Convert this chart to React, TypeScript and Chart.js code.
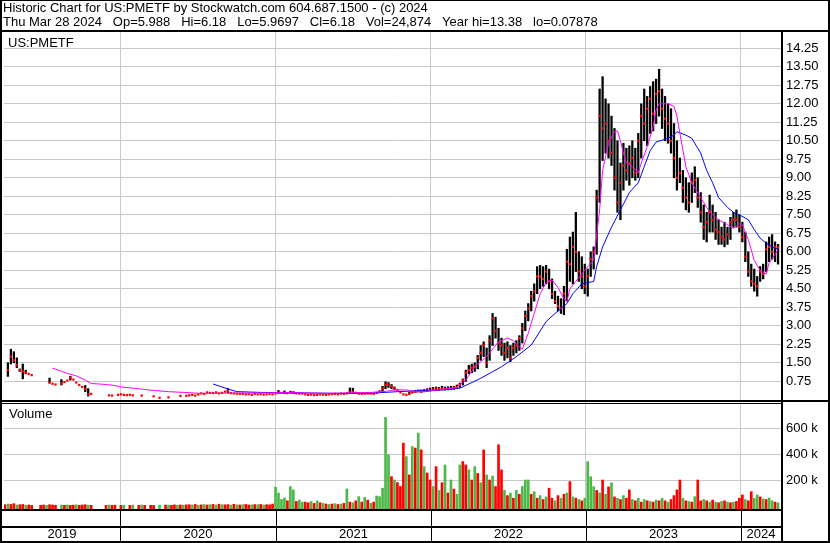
import React, { useEffect, useRef } from 'react';
import { Chart, registerables } from 'chart.js';

Chart.register(...registerables);

const _ = null;

const titleLine1 = 'Historic Chart for US:PMETF by Stockwatch.com 604.687.1500 - (c) 2024';
const titleLine2 = 'Thu Mar 28 2024   Op=5.988   Hi=6.18   Lo=5.9697   Cl=6.18   Vol=24,874   Year hi=13.38   lo=0.07878';
const symbolLabel = 'US:PMETF';
const volumeLabel = 'Volume';

// weekly bars, first one in the first week of April 2019 (decimal years)
const firstWeek = 2019.256;
const weekLength = 7 / 365.25;
const xStart = 2019.25;
const xEnd = 2024.258;

const yearBoundaries = [2020, 2021, 2022, 2023, 2024];
const yearLabels = ['2019', '2020', '2021', '2022', '2023', '2024'];
const priceTicks = [0.75, 1.5, 2.25, 3, 3.75, 4.5, 5.25, 6, 6.75, 7.5, 8.25, 9, 9.75, 10.5, 11.25, 12, 12.75, 13.5, 14.25];
const volumeTicks = [200000, 400000, 600000];

const weeklyClose = [
  _, 1.2, 1.75, 1.6, 1.4, 1.2, 1.15, 1.1, 1.05, 1.0,
  _, _, _, _, _, 0.7, 0.65, 0.62, _, 0.66,
  0.72, 0.78, 0.9, 0.82, 0.7, 0.6, 0.52, 0.45, 0.22, 0.24,
  _, _, _, _, _, 0.18, 0.17, _, 0.2, 0.22,
  0.2, 0.19, 0.2, 0.18, _, _, 0.17, _, _, _,
  0.14, _, 0.08, _, _, 0.1, _, _, _, 0.16,
  _, 0.16, 0.18, 0.2, 0.17, 0.22, 0.26, 0.24, 0.3, 0.28,
  0.27, 0.3, 0.26, 0.28, 0.33, 0.35, 0.27, 0.26, 0.25, 0.24,
  0.24, 0.22, 0.23, 0.2, 0.24, 0.22, 0.23, 0.21, 0.22, 0.24,
  0.22, 0.26, 0.3, 0.28, 0.29, 0.27, 0.3, 0.28, 0.26, 0.25,
  0.25, 0.22, 0.2, 0.21, 0.19, 0.2, 0.22, 0.21, 0.2, 0.22,
  0.23, 0.24, 0.22, 0.25, 0.24, 0.26, 0.3, 0.32, 0.28, 0.25,
  0.24, 0.25, 0.26, 0.25, 0.24, 0.28, 0.35, 0.45, 0.6, 0.62,
  0.55, 0.48, 0.4, 0.3, 0.22, 0.2, 0.24, 0.3, 0.33, 0.35,
  0.33, 0.36, 0.38, 0.4, 0.42, 0.45, 0.43, 0.46, 0.44, 0.45,
  0.45, 0.5, 0.52, 0.62, 0.8, 1.1, 1.2, 1.3, 1.35, 1.7,
  1.9, 2.2, 1.5, 2.4, 3.3, 2.8, 2.3, 2.2, 1.9, 2.1,
  1.7, 2.1, 2.2, 2.5, 2.9, 3.4, 3.7, 4.2, 4.4, 5.0,
  5.0, 4.9, 5.2, 4.8, 4.3, 4.0, 3.8, 3.7, 4.3, 5.6,
  5.5, 6.2, 6.0, 5.2, 5.0, 4.6, 5.0, 5.7, 6.0, 8.2,
  11.5, 11.0, 11.2, 10.5, 10.0, 9.0, 8.0, 8.8, 9.5, 9.3,
  9.6, 9.8, 9.2, 10.5, 11.5, 11.2, 11.8, 12.2, 11.6, 12.4,
  12.5, 11.8, 11.4, 11.2, 10.5, 9.8, 9.0, 9.2, 8.6, 8.2,
  8.0, 8.8, 8.9, 8.2, 7.6, 7.0, 7.2, 7.6, 7.3, 6.9,
  6.8, 6.6, 6.5, 6.7, 7.2, 7.3, 7.3, 7.0, 6.6, 5.8,
  5.2, 4.8, 4.7, 4.6, 5.2, 5.1, 6.1, 6.2, 6.0, 6.2, 6.18,
];

const weeklyLow = [
  _, 0.95, 1.45, 1.5, 1.3, 1.15, 0.85, 1.05, _, _,
  _, _, _, _, _, 0.68, _, _, _, 0.6,
  _, _, 0.8, _, _, _, _, 0.33, 0.15, _,
  _, _, _, _, _, _, _, _, _, _,
  _, _, _, _, _, _, _, _, _, _,
  _, _, _, _, _, _, _, _, _, _,
  _, _, _, _, _, _, _, _, _, _,
  _, _, _, _, _, 0.28, _, _, _, _,
  _, _, _, _, _, _, _, _, _, _,
  _, _, 0.26, _, 0.25, _, 0.27, 0.25, _, _,
  _, _, _, _, _, _, _, _, _, _,
  _, _, _, _, _, _, 0.25, 0.28, _, _,
  _, _, _, _, _, _, _, 0.3, 0.45, 0.5,
  0.45, 0.4, _, _, _, _, 0.22, 0.28, 0.3, 0.32,
  0.3, 0.32, 0.33, 0.35, 0.37, 0.38, 0.38, 0.4, 0.39, 0.4,
  0.4, 0.42, 0.45, 0.5, 0.6, 0.75, 1.05, 1.1, 1.15, 1.25,
  1.6, 1.75, 1.3, 1.6, 2.2, 2.5, 2.0, 1.8, 1.6, 1.7,
  1.55, 1.8, 1.9, 2.0, 2.3, 2.8, 3.2, 3.6, 4.0, 4.3,
  4.5, 4.6, 4.7, 4.5, 4.1, 3.9, 3.6, 3.5, 3.45, 4.0,
  4.8, 4.7, 5.2, 4.8, 4.5, 4.3, 4.2, 5.0, 5.3, 5.9,
  8.0, 9.7, 10.0, 9.8, 9.5, 8.5, 7.6, 7.3, 8.5, 8.9,
  8.7, 9.0, 8.9, 9.0, 9.8, 10.5, 10.3, 10.8, 10.9, 11.2,
  11.5, 11.0, 10.5, 10.4, 10.0, 9.0, 8.5, 8.8, 8.0, 7.7,
  7.6, 8.0, 8.4, 7.8, 7.2, 6.5, 6.4, 6.8, 6.8, 6.5,
  6.3, 6.3, 6.2, 6.3, 6.5, 7.0, 7.0, 6.8, 6.4, 5.6,
  5.0, 4.6, 4.4, 4.2, 4.8, 4.9, 5.2, 5.6, 5.7, 5.6, 5.5,
];

const weeklyHigh = [
  _, 1.5, 2.05, 1.95, 1.7, 1.25, 1.45, 1.2, _, _,
  _, _, _, _, _, 0.88, _, _, _, 0.82,
  _, _, 0.95, _, _, _, _, 0.58, 0.45, _,
  _, _, _, _, _, _, _, _, _, _,
  _, _, _, _, _, _, _, _, _, _,
  _, _, _, _, _, _, _, _, _, _,
  _, _, _, _, _, _, _, _, _, _,
  _, _, _, _, _, 0.45, _, _, _, _,
  _, _, _, _, _, _, _, _, _, _,
  _, _, 0.38, _, 0.36, _, 0.35, 0.33, _, _,
  _, _, _, _, _, _, _, _, _, _,
  _, _, _, _, _, _, 0.48, 0.47, _, _,
  _, _, _, _, _, _, _, 0.55, 0.73, 0.7,
  0.62, 0.52, _, _, _, _, 0.3, 0.35, 0.38, 0.4,
  0.4, 0.42, 0.45, 0.48, 0.5, 0.52, 0.5, 0.55, 0.52, 0.53,
  0.55, 0.55, 0.6, 0.68, 0.85, 1.2, 1.4, 1.45, 1.5, 1.8,
  2.2, 2.35, 2.1, 2.6, 3.5, 3.35, 2.9, 2.5, 2.3, 2.35,
  2.2, 2.3, 2.4, 2.6, 3.1, 3.6, 3.9, 4.4, 4.7, 5.4,
  5.45, 5.4, 5.45, 5.3, 4.9, 4.4, 4.2, 4.1, 4.6, 6.1,
  6.6, 6.8, 7.6, 6.0, 5.8, 5.5, 5.3, 6.0, 6.2, 8.5,
  12.6, 13.1, 12.2, 12.0, 11.5, 11.0, 10.5, 9.6, 10.4, 10.2,
  10.3, 10.5, 10.2, 10.8, 12.0, 12.6, 12.3, 12.7, 12.9, 13.0,
  13.4, 12.6, 12.3, 12.0, 11.8, 11.2, 10.5, 9.8, 9.3, 9.0,
  8.8, 9.2, 9.45, 9.0, 8.4, 7.9, 7.6, 8.3, 7.9, 7.6,
  7.3, 7.0, 7.2, 7.0, 7.4, 7.6, 7.7, 7.5, 7.2, 6.8,
  6.0, 5.5, 5.3, 5.0, 5.4, 5.5, 6.4, 6.6, 6.7, 6.4, 6.3,
];

// weekly volume in thousands of shares
const weeklyVolumeK = [
  10, 15, 12, 18, 8, 10, 12, 6, 8, 5,
  _, _, 6, 8, 5, 10, 8, 6, _, 7,
  6, 8, 5, 7, 9, 6, 8, 10, 6, 5,
  _, _, _, _, 5, 8, 6, 7, _, 5,
  6, _, 5, 7, _, 6, 8, 5, _, 6,
  5, _, 7, _, 8, 6, 5, 9, 6, 8,
  7, 9, 10, 8, 12, 6, 9, 11, 8, 10,
  12, 8, 14, 10, 9, 11, 7, 13, 9, 8,
  10, 12, 8, 9, 11, 10, 12, 8, 10, 9,
  15, 145, 100, 50, 62, 40, 149, 124, 35, 46,
  30, 30, 25, 35, 20, 40, 25, 20, 15, 12,
  15, 18, 12, 15, 20, 131, 30, 25, 40, 72,
  30, 66, 45, 20, 30, 77, 72, 137, 682, 394,
  226, 200, 180, 150, 484, 380, 240, 458, 446, 561,
  432, 303, 254, 200, 150, 303, 120, 180, 316, 100,
  200, 130, 90, 316, 342, 316, 278, 200, 303, 250,
  180, 432, 239, 200, 230, 150, 471, 278, 120, 80,
  100, 60, 120, 90, 150, 200, 200, 90, 110, 60,
  80, 50, 70, 137, 60, 40, 80, 60, 90, 100,
  188, 70, 60, 50, 40, 60, 342, 226, 149, 120,
  100, 200, 90, 147, 178, 70, 60, 50, 80, 60,
  124, 50, 40, 60, 30, 50, 40, 35, 30, 45,
  40, 60, 40, 30, 50, 80, 124, 200, 60, 40,
  35, 30, 72, 200, 40, 50, 40, 30, 46, 30,
  25, 35, 40, 30, 25, 30, 35, 60, 85, 50,
  40, 110, 60, 85, 70, 55, 50, 62, 40, 30, 25,
];

// g = up week (green), r = down week (red)
const weeklyVolumeSide = [
  'rgrrgrrgrr', 'rrrrgrrrrg', 'rgrrgrrrgr', 'rrrrrgrrrr', 'grrgrrgrrr',
  'rrgrrgrrgr', 'grrgrgrgrg', 'rgrgrrgrgr', 'grrgrgrgrr', 'rggggrggrg',
  'grrgrgrgrg', 'rgrgrgrgrg', 'rgrgrggggg', 'rgrrrgrgrg', 'rgrrgrgrgr',
  'grggrrgrgr', 'grgrgrrrgr', 'grgrgggrgr', 'grgrrgrgrg', 'rgrgrggggr',
  'grgrgrgrgr', 'rgrgrgrgrg', 'rgrgrrrrgr', 'grgrrgrgrg', 'rgrgrgrrrg',
  'rrggrgrggrg',
].join('');

// moving averages, sampled at week numbers
const shortMaWeeks = [16, 18, 21, 24, 27, 29, 33, 37, 39, 45, 48, 55, 60, 66, 76, 86, 96, 107, 117, 123, 128, 131, 135, 138, 142, 147, 152, 155, 158, 162, 166, 169, 171, 173, 174, 176, 178, 180, 182, 184, 186, 188, 189, 190, 192, 196, 198, 200, 201, 203, 205, 206, 207, 208, 209, 211, 213, 214, 216, 218, 219, 220, 223, 225, 226, 227, 229, 231, 234, 236, 238, 240, 243, 245, 247, 248, 250, 252, 254, 256, 257, 260];
const shortMaValues = [1.28, 1.2, 1.07, 0.97, 0.8, 0.66, 0.63, 0.58, 0.52, 0.45, 0.4, 0.33, 0.3, 0.26, 0.27, 0.28, 0.29, 0.26, 0.28, 0.3, 0.34, 0.4, 0.4, 0.32, 0.35, 0.42, 0.5, 0.8, 1.34, 1.75, 2.35, 2.5, 2.4, 2.15, 2.05, 2.7, 3.5, 4.3, 4.75, 4.86, 4.55, 4.1, 4.0, 4.5, 4.8, 5.4, 5.65, 7.7, 9.3, 10.4, 10.87, 10.9, 10.5, 10.0, 9.6, 9.45, 9.2, 9.6, 10.26, 11.07, 11.75, 12.0, 12.0, 11.9, 11.5, 10.8, 9.45, 8.8, 8.2, 7.8, 7.5, 7.3, 7.1, 6.95, 7.15, 7.1, 6.5, 5.65, 5.25, 5.1, 5.55, 6.07];
const longMaWeeks = [70, 73, 76, 78, 86, 100, 113, 123, 128, 132, 140, 147, 153, 160, 167, 172, 177, 182, 185, 189, 191, 194, 198, 199, 201, 204, 207, 210, 213, 215, 217, 219, 223, 225, 226, 229, 231, 234, 236, 238, 240, 243, 245, 247, 250, 252, 254, 256, 258, 260];
const longMaValues = [0.64, 0.52, 0.4, 0.33, 0.3, 0.28, 0.26, 0.27, 0.3, 0.33, 0.37, 0.4, 0.47, 0.87, 1.34, 1.75, 2.22, 3.17, 3.5, 3.9, 4.3, 4.7, 4.8, 5.4, 6.2, 7.0, 7.7, 8.4, 8.8, 9.45, 10.1, 10.45, 10.6, 10.73, 10.87, 10.73, 10.6, 10.0, 9.3, 8.8, 8.2, 7.8, 7.6, 7.5, 7.3, 6.9, 6.55, 6.35, 6.2, 6.1];

const FONT = '"Liberation Sans", Arial, sans-serif';
const GRID = '#c8c8c8';
const UP = '#4cb848';
const DOWN = '#ff0000';

const weekDate = (i: number) => firstWeek + i * weekLength;

const framePlugin = {
  id: 'frame',
  afterDraw(chart: any) {
    const ctx = chart.ctx;
    const xs = chart.scales.x;
    const ys = chart.scales.y;
    const area = chart.chartArea;
    const W = chart.width;
    const H = chart.height;
    ctx.save();
    ctx.fillStyle = '#000';
    // outer frame
    ctx.fillRect(0, 0, W, 1);
    ctx.fillRect(0, 0, 2, H);
    ctx.fillRect(W - 2, 0, 2, H);
    ctx.fillRect(0, H - 2, W, 2);
    // header separator and axis divider
    ctx.fillRect(0, area.top - 2, W, 2);
    ctx.fillRect(area.right, area.top - 2, 2, H - area.top + 2);
    // price / volume separator
    const sep = Math.round(ys.bottom);
    ctx.fillRect(0, sep - 1, W, 2);
    ctx.fillRect(0, sep + 2, area.right, 1);
    // volume bottom + year band
    const vb = Math.round(area.bottom);
    ctx.fillRect(0, vb, area.right, 2);
    ctx.fillRect(0, vb + 17, area.right, 2);
    const bounds = [area.left, ...yearBoundaries.map((v) => Math.round(xs.getPixelForValue(v))), area.right];
    for (let i = 1; i < bounds.length - 1; i++) {
      ctx.fillRect(bounds[i], vb + 2, 1, H - vb - 4);
    }
    ctx.font = '13px ' + FONT;
    ctx.textAlign = 'center';
    ctx.textBaseline = 'alphabetic';
    for (let i = 0; i < yearLabels.length; i++) {
      ctx.fillText(yearLabels[i], (bounds[i] + bounds[i + 1]) / 2, H - 5);
    }
    // texts
    ctx.textAlign = 'left';
    ctx.fillText(titleLine1, 3, 12);
    ctx.fillText(titleLine2, 3, 26);
    ctx.fillText(symbolLabel, 8, area.top + 15);
    ctx.fillText(volumeLabel, 9, sep + 17);
    ctx.restore();
  },
};

export default function App() {
  const ref = useRef<HTMLCanvasElement | null>(null);

  useEffect(() => {
    document.body.style.margin = '0';
    document.body.style.background = '#fff';
    const canvas = ref.current;
    if (!canvas) return;

    const bars: any[] = [];
    const closes: any[] = [];
    weeklyClose.forEach((c, i) => {
      const lo = weeklyLow[i];
      const hi = weeklyHigh[i];
      if (lo != null && hi != null) bars.push({ x: weekDate(i), y: [lo, hi] });
      if (c != null) closes.push({ x: weekDate(i), y: c });
    });
    const vols: any[] = [];
    const volColors: string[] = [];
    weeklyVolumeK.forEach((v, i) => {
      if (v == null) return;
      vols.push({ x: weekDate(i), y: v * 1000 });
      volColors.push(weeklyVolumeSide[i] === 'g' ? UP : DOWN);
    });
    const shortMa = shortMaWeeks.map((w, i) => ({ x: weekDate(w), y: shortMaValues[i] }));
    const longMa = longMaWeeks.map((w, i) => ({ x: weekDate(w), y: longMaValues[i] }));

    Chart.defaults.font.family = FONT;
    Chart.defaults.font.size = 13;
    Chart.defaults.color = '#000';

    const chart = new Chart(canvas, {
      type: 'bar',
      data: {
        datasets: [
          {
            type: 'line', data: shortMa, borderColor: '#ff00ff', borderWidth: 1,
            pointRadius: 0, tension: 0, xAxisID: 'x', yAxisID: 'y',
          },
          {
            type: 'line', data: longMa, borderColor: '#0000ff', borderWidth: 1,
            pointRadius: 0, tension: 0, xAxisID: 'x', yAxisID: 'y',
          },
          {
            type: 'line', data: closes, showLine: false, pointStyle: 'rect',
            pointRadius: 1.6, pointBorderWidth: 0, pointBackgroundColor: DOWN,
            borderColor: DOWN, xAxisID: 'x', yAxisID: 'y',
          },
          {
            type: 'bar', data: bars, backgroundColor: '#000', grouped: false,
            barPercentage: 1, categoryPercentage: 1, maxBarThickness: 1.6,
            xAxisID: 'x', yAxisID: 'y',
          },
          {
            type: 'bar', data: vols, backgroundColor: volColors, grouped: false,
            barPercentage: 1, categoryPercentage: 1, maxBarThickness: 2,
            base: -23000, xAxisID: 'x', yAxisID: 'y2',
          },
        ] as any,
      },
      options: {
        animation: false,
        responsive: false,
        devicePixelRatio: 1,
        layout: { padding: { left: 2, top: 32, right: 0, bottom: 34 } },
        plugins: { legend: { display: false }, tooltip: { enabled: false }, title: { display: false } },
        scales: {
          x: {
            type: 'linear', min: xStart, max: xEnd, offset: false,
            afterBuildTicks: (s: any) => { s.ticks = yearBoundaries.map((v) => ({ value: v })); },
            ticks: { display: false },
            grid: { color: GRID, drawTicks: false, offset: false },
            border: { display: false },
            afterFit: (s: any) => { s.height = 0; },
          },
          y: {
            type: 'linear', position: 'right', stack: 'panels', stackWeight: 369,
            min: -0.049, max: 14.911,
            afterBuildTicks: (s: any) => { s.ticks = priceTicks.map((v) => ({ value: v })); },
            ticks: { padding: 5, color: '#000', autoSkip: false, callback: (v: any) => Number(v).toFixed(2) },
            grid: { color: GRID, drawTicks: false },
            border: { display: false },
            afterFit: (s: any) => { s.width = 49; },
          },
          y2: {
            type: 'linear', position: 'right', stack: 'panels', stackWeight: 108,
            min: -23000, max: 807700,
            afterBuildTicks: (s: any) => { s.ticks = volumeTicks.map((v) => ({ value: v })); },
            ticks: { padding: 5, color: '#000', autoSkip: false, callback: (v: any) => Number(v) / 1000 + ' k' },
            grid: { color: GRID, drawTicks: false },
            border: { display: false },
            afterFit: (s: any) => { s.width = 49; },
          },
        },
      } as any,
      plugins: [framePlugin],
    });

    return () => chart.destroy();
  }, []);

  return <canvas ref={ref} width={830} height={543} style={{ display: 'block' }} />;
}
